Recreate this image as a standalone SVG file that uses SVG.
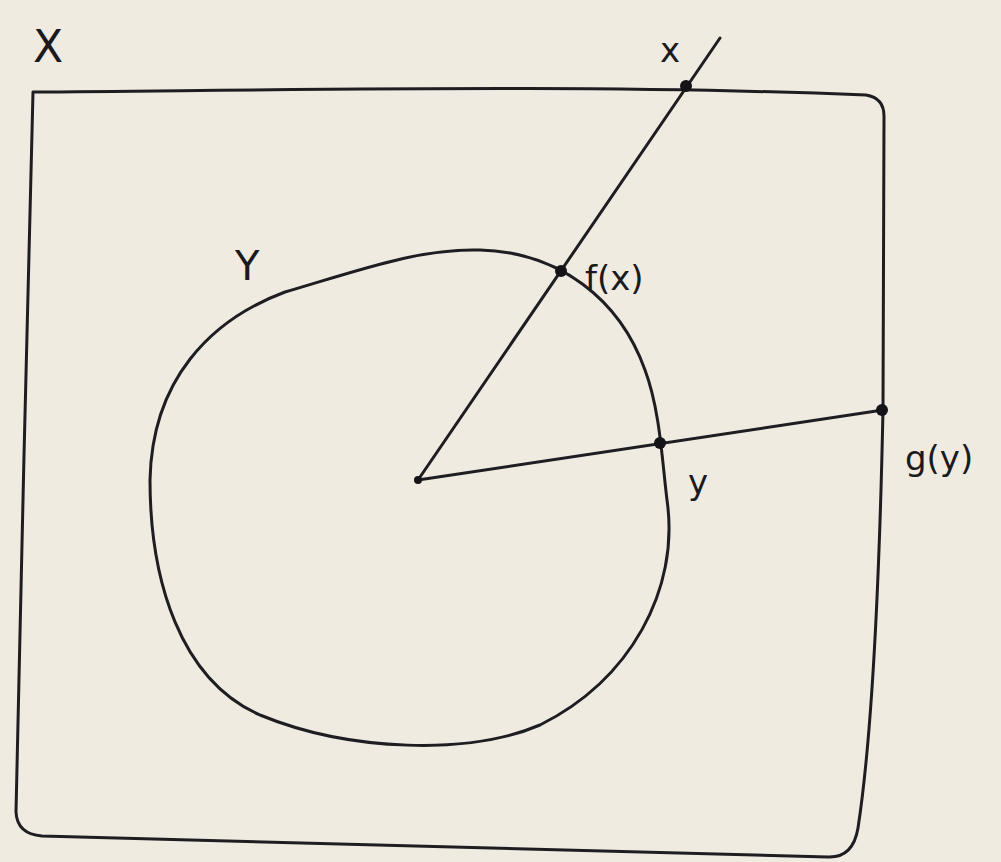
<svg xmlns="http://www.w3.org/2000/svg" width="1001" height="862" viewBox="0 0 1001 862">
<style>
.ln{fill:none;stroke:#1e1e22;stroke-width:3;stroke-linecap:round;stroke-linejoin:round}
.dot{fill:#141418}
.lb{font-family:"DejaVu Sans","Liberation Sans",sans-serif;fill:#1a1a1e}
</style>
<rect width="1001" height="862" fill="#efebe1"/>
<g id="setX">
<path class="ln" d="M33,92 C300,90 600,84 866,95 Q884,98 884,116 L883,410 C879,600 870,750 858,828 Q853,858 828,857 L42,836 Q17,834 16,812 C20,600 28,300 33,92"/>
<text class="lb" x="33" y="62" font-size="44">X</text>
</g>
<g id="setY">
<path class="ln" d="M285,292 C360,270 420,248 480,250 C560,252 620,300 645,370 C660,410 662,460 667,500 C680,590 630,680 540,725 C470,755 350,752 260,715 C180,680 150,580 150,480 C152,380 210,320 285,292 Z"/>
<text class="lb" x="235" y="280" font-size="40">Y</text>
</g>
<g id="connectors">
<line class="ln" x1="418" y1="480" x2="720" y2="38"/>
<line class="ln" x1="418" y1="480" x2="883" y2="410"/>
</g>
<g id="center"><circle class="dot" cx="418" cy="480" r="4"/></g>
<g id="pt-x"><circle class="dot" cx="686" cy="86" r="6"/><text class="lb" x="660" y="62" font-size="34">x</text></g>
<g id="pt-fx"><circle class="dot" cx="561" cy="271" r="6"/><text class="lb" x="585" y="290" font-size="34">f(x)</text></g>
<g id="pt-y"><circle class="dot" cx="660" cy="443" r="6"/><text class="lb" x="688" y="494" font-size="34">y</text></g>
<g id="pt-gy"><circle class="dot" cx="882" cy="410" r="6"/><text class="lb" x="905" y="470" font-size="34">g(y)</text></g>
</svg>
